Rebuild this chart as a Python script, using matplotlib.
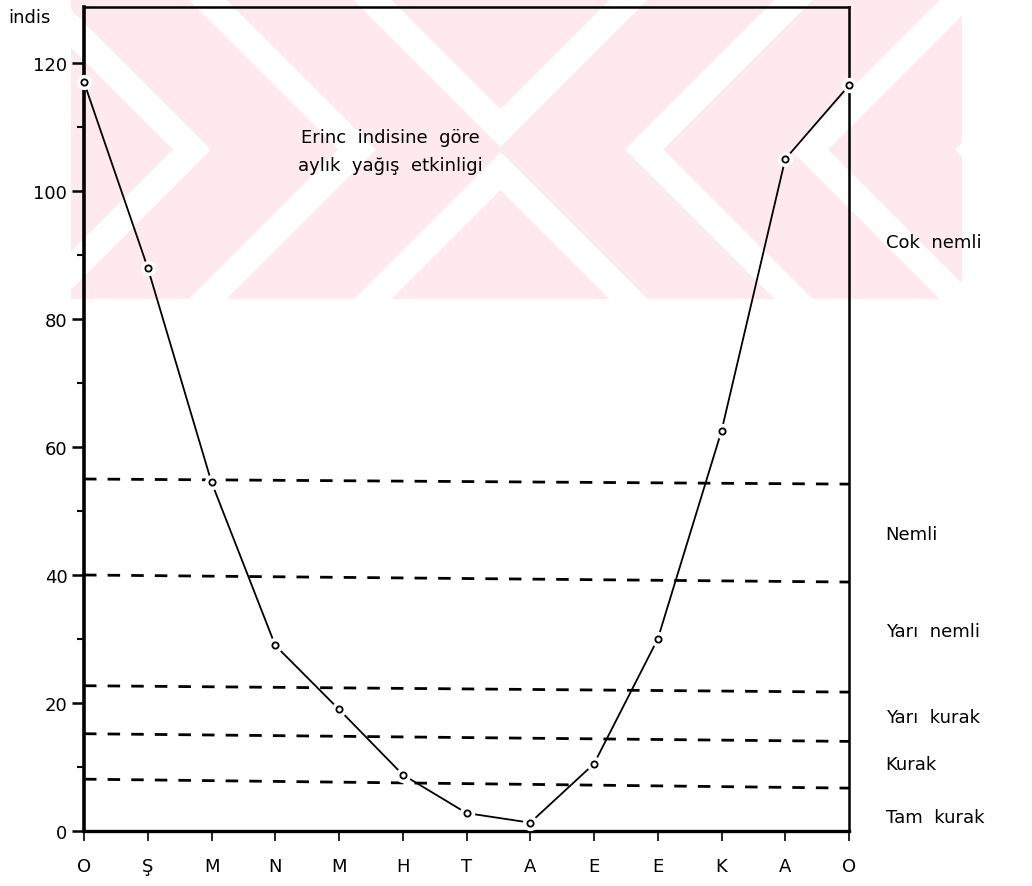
import numpy as np
import matplotlib
matplotlib.use('Agg')
import matplotlib.pyplot as plt
import matplotlib.transforms as mtransforms

# aylar (Ocak -> Ocak)
aylar = ['O', 'Ş', 'M', 'N', 'M', 'H', 'T', 'A', 'E', 'E', 'K', 'A', 'O']
indis = [117, 88, 54.5, 29, 19, 8.8, 2.8, 1.3, 10.5, 30, 62.5, 105, 116.5]

# sinir cizgileri (sol ve sag uc degerleri, tarama egik)
sinir_sol = [55, 40, 22.7, 15.2, 8.1]
sinir_sag = [54.2, 38.9, 21.7, 14.0, 6.7]

# sinif adlari ve yazi yuksekligi
siniflar = ['Cok  nemli', 'Nemli', 'Yarı  nemli', 'Yarı  kurak', 'Kurak', 'Tam  kurak']
sinif_y = [92, 46.4, 31.2, 17.8, 10.5, 2.2]

W, H = 1032, 887
fig = plt.figure(figsize=(W / 100, H / 100), dpi=100)

# arka plandaki soluk pembe filigran
bg = fig.add_axes([0, 0, 1, 1], zorder=-5)
xx, yy = np.meshgrid(np.arange(W), np.arange(H))
u = np.abs(xx - 500.0)
v = np.abs(yy - 150.0)
d = u - v
stripe = np.mod(d + 40, 165) < 38
pink = (xx > 70) & (xx < 962) & (yy < 300)
img = np.ones((H, W, 3))
mask = pink & ~stripe
img[mask] = np.array([253, 233, 238]) / 255.0
bg.imshow(img, extent=[0, W, H, 0], aspect='auto', interpolation='nearest')
bg.set_xlim(0, W)
bg.set_ylim(H, 0)
bg.axis('off')

ax = fig.add_axes([84 / W, 1 - 832 / H, 765 / W, 824 / H])
ax.set_facecolor('none')
x = np.arange(len(aylar))

# sinir cizgileri
for a, b in zip(sinir_sol, sinir_sag):
    ax.plot([0, 12], [a, b], color='black', lw=2.0, ls=(0, (4.5, 4.0)), zorder=2)

# egri
ax.plot(x, indis, color='black', lw=1.3, zorder=3, clip_on=False)
ax.plot(x, indis, ls='none', marker='o', ms=11, mfc='white', mec='none', zorder=4, clip_on=False)
ax.plot(x, indis, ls='none', marker='o', ms=4.5, mfc='white', mec='black', mew=1.3, zorder=5, clip_on=False)

ax.set_xlim(0, 12)
ax.set_ylim(0, 128.75)
ax.set_xticks(x)
ax.set_xticklabels(aylar, fontsize=13)
ax.set_yticks(range(0, 121, 20))
ax.set_yticklabels([str(t) for t in range(0, 121, 20)], fontsize=13)
ax.set_yticks(range(10, 121, 20), minor=True)
ax.tick_params(axis='y', which='major', length=9, width=1.8, pad=3, direction='out')
ax.tick_params(axis='y', which='minor', length=5, width=1.5, direction='out')
ax.tick_params(axis='x', which='major', length=7, width=1.2, pad=12, direction='out')

ax.spines['left'].set_linewidth(2.6)
ax.spines['bottom'].set_linewidth(2.4)
ax.spines['top'].set_linewidth(1.8)
ax.spines['right'].set_linewidth(1.8)

fig.text(8 / W, 1 - 18 / H, 'indis', fontsize=13, va='center', ha='left')

ax.text(0.4, 1 - 121 / 824, 'Erinc  indisine  göre\naylık  yağış  etkinligi',
        transform=ax.transAxes, fontsize=13, ha='center', va='top', linespacing=1.7)

trans = mtransforms.blended_transform_factory(ax.transAxes, ax.transData)
for s, yv in zip(siniflar, sinif_y):
    ax.text(1.048, yv, s, transform=trans, fontsize=13, ha='left', va='center')

fig.savefig('out.png', dpi=100)
